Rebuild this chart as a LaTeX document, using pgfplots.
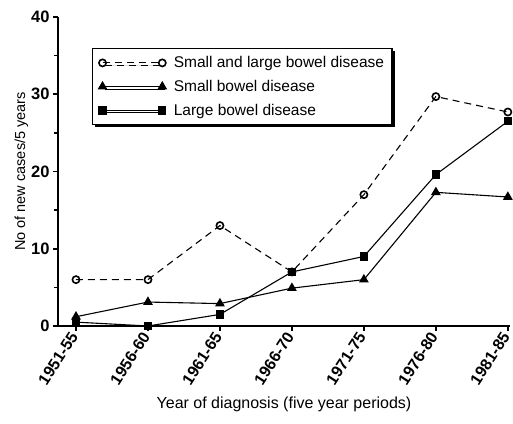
\documentclass[border=0pt]{standalone}
\usepackage{fontspec}
\setmainfont{Liberation Sans}
\usepackage{pgfplots}
\pgfplotsset{compat=1.18}
\usetikzlibrary{shadows}
\begin{document}
\begin{tikzpicture}
\begin{axis}[
  scale only axis,
  width=452pt, height=309pt,
  xmin=-0.25, xmax=6.03,
  ymin=0, ymax=40,
  axis x line*=bottom, axis y line*=left,
  axis line style={line width=2.2pt},
  xtick={0,1,2,3,4,5,6},
  xticklabels={1951-55,1956-60,1961-65,1966-70,1971-75,1976-80,1981-85},
  xticklabel style={rotate=57, anchor=east, font=\fontsize{16}{18}\selectfont\bfseries},
  ytick={0,10,20,30,40},
  minor ytick={5,15,25,35},
  yticklabel style={font=\fontsize{16.5}{18}\selectfont\bfseries},
  /pgf/number format/assume math mode=true,
  tick style={black, line width=1.6pt},
  major tick length=5pt, minor tick length=4pt,
  tick align=outside,
  xlabel={Year of diagnosis (five year periods)},
  ylabel={No of new cases/5 years},
  xlabel style={font=\fontsize{16}{18}\selectfont, yshift=-2pt},
  ylabel style={font=\fontsize{14.5}{16}\selectfont, yshift=-4pt},
  legend style={at={(0.075,0.9)}, anchor=north west, draw=black, line width=1.3pt,
    drop shadow={shadow xshift=2.5pt, shadow yshift=-2.5pt, fill=black, opacity=1},
    fill=white, font=\fontsize{15.5}{17}\selectfont, row sep=7pt, inner xsep=6pt, inner ysep=6pt},
  legend cell align=left,
  legend image code/.code={\draw[#1] plot coordinates {(0cm,0cm) (2.1cm,0cm)}; \path (2.1cm+9pt,0cm);},
  clip=false,
]
\addplot[black, line width=1.1pt, dash pattern=on 7pt off 5pt, mark=o, mark size=3.6pt,
  mark options={solid, fill=white, line width=1.6pt}]
  coordinates {(0,6) (1,6) (2,13) (3,7) (4,17) (5,29.7) (6,27.7)};
\addlegendentry{Small and large bowel disease}
\addplot[black, line width=1.1pt, mark=triangle*, mark size=4.6pt, mark options={solid}]
  coordinates {(0,1.2) (1,3.1) (2,2.9) (3,4.9) (4,6) (5,17.3) (6,16.7)};
\addlegendentry{Small bowel disease}
\addplot[black, line width=1.1pt, mark=square*, mark size=3.6pt, mark options={solid}]
  coordinates {(0,0.5) (1,0) (2,1.5) (3,7) (4,9) (5,19.6) (6,26.5)};
\addlegendentry{Large bowel disease}
\end{axis}
\pgfresetboundingbox
\path (current axis.south west) ++(-58pt,-98pt) coordinate (bbA);
\path (current axis.north east) ++(3pt,17pt) coordinate (bbB);
\useasboundingbox (bbA) rectangle (bbB);
\end{tikzpicture}
\end{document}
